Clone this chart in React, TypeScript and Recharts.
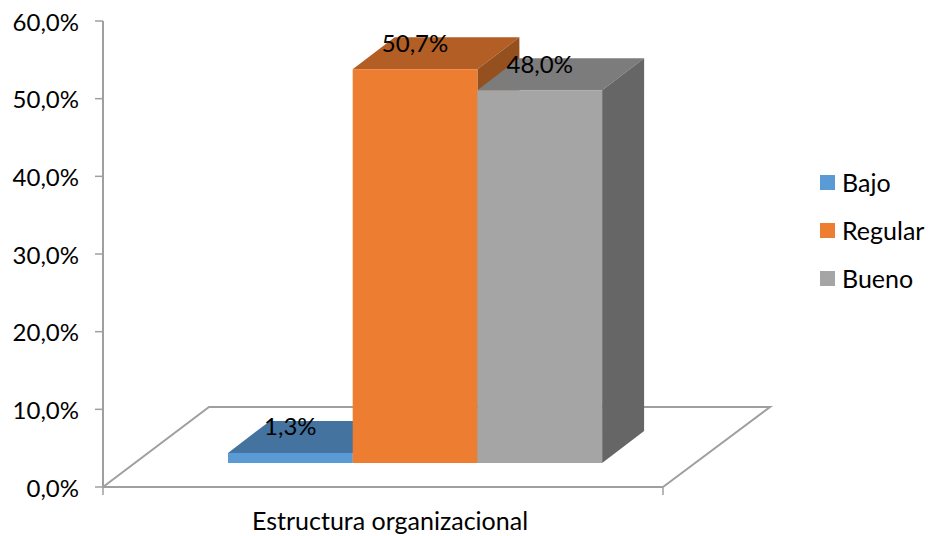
import { Bar, BarChart, LabelList, Legend, XAxis, YAxis } from "recharts";

const categories = ["Estructura organizacional"];
const bajo = [1.3];
const regular = [50.7];
const bueno = [48.0];
const yTicks = [0, 10, 20, 30, 40, 50, 60];

const rows = categories.map((name, i) => ({
  name,
  Bajo: bajo[i],
  Regular: regular[i],
  Bueno: bueno[i],
}));

const font = "Lato, 'Open Sans', sans-serif";
const axisColor = "#9f9f9f";
const textColor = "#000";

// plot box of the chart
const left = 103;
const right = 663;
const bottom = 487;

// the bars stand part way back on the floor
const shiftX = 32;
const shiftY = -24;
const depthX = 42;
const depthY = 32;

const legendItems = [
  { name: "Bajo", color: "#5b9bd5" },
  { name: "Regular", color: "#ed7d31" },
  { name: "Bueno", color: "#a5a5a5" },
];

const percent = (v: number) => v.toFixed(1).replace(".", ",") + "%";

function Floor() {
  return (
    <g fill="none" stroke={axisColor} strokeWidth={2}>
      <polyline points={`${left},${bottom} ${left + 106},407 ${right + 107},407 ${right},${bottom}`} />
      <line x1={left} x2={left} y1={bottom} y2={bottom + 8} strokeWidth={1.5} />
      <line x1={right} x2={right} y1={bottom} y2={bottom + 8} strokeWidth={1.5} />
    </g>
  );
}

function box(front: string, top: string, side: string) {
  return (props: any) => {
    const x = props.x + shiftX;
    const y = props.y + shiftY;
    const w = props.width;
    const h = props.height;
    return (
      <g>
        <polygon fill={top} points={`${x},${y} ${x + depthX},${y - depthY} ${x + w + depthX},${y - depthY} ${x + w},${y}`} />
        <polygon fill={side} points={`${x + w},${y} ${x + w + depthX},${y - depthY} ${x + w + depthX},${y + h - depthY} ${x + w},${y + h}`} />
        <rect x={x} y={y} width={w} height={h} fill={front} />
      </g>
    );
  };
}

function valueLabel(props: any) {
  return (
    <text
      x={props.x + props.width / 2 + shiftX}
      y={props.y + shiftY - 27}
      textAnchor="middle"
      dominantBaseline="central"
      fontFamily={font}
      fontSize={24}
      fill={textColor}
    >
      {percent(props.value)}
    </text>
  );
}

function LegendList() {
  return (
    <div style={{ fontFamily: font, fontSize: 25, color: textColor }}>
      {legendItems.map((item) => (
        <div key={item.name} style={{ display: "flex", alignItems: "center", height: 48 }}>
          <span style={{ width: 15, height: 15, background: item.color, marginRight: 7 }} />
          {item.name}
        </div>
      ))}
    </div>
  );
}

export default function App() {
  return (
    <div style={{ position: "absolute", left: 0, top: 0, width: 928, height: 536, background: "#fff" }}>
      <BarChart
        width={928}
        height={536}
        data={rows}
        barSize={124.7}
        barGap={0}
        margin={{ top: 21, right: 157, bottom: 0, left: 8 }}
      >
        <Floor />
        <XAxis
          dataKey="name"
          height={49}
          axisLine={{ stroke: axisColor, strokeWidth: 2 }}
          tickLine={false}
          tickMargin={19}
          tick={{ fontFamily: font, fontSize: 25, fill: textColor, dx: 7 }}
        />
        <YAxis
          width={95}
          domain={[0, 60]}
          ticks={yTicks}
          tickFormatter={percent}
          axisLine={{ stroke: axisColor, strokeWidth: 2 }}
          tickLine={{ stroke: axisColor, strokeWidth: 1.5 }}
          tickSize={8}
          tickMargin={16}
          tick={{ fontFamily: font, fontSize: 24, fill: textColor, dy: 1 }}
        />
        <Bar dataKey="Bajo" isAnimationActive={false} shape={box("#5b9bd5", "#44739f", "#3a6690")}>
          <LabelList dataKey="Bajo" content={valueLabel} />
        </Bar>
        <Bar dataKey="Regular" isAnimationActive={false} shape={box("#ed7d31", "#b25e25", "#955020")}>
          <LabelList dataKey="Regular" content={valueLabel} />
        </Bar>
        <Bar dataKey="Bueno" isAnimationActive={false} shape={box("#a5a5a5", "#7c7c7c", "#666666")}>
          <LabelList dataKey="Bueno" content={valueLabel} />
        </Bar>
        <Legend
          layout="vertical"
          align="right"
          verticalAlign="middle"
          width={108}
          content={<LegendList />}
          wrapperStyle={{ left: 820, right: "auto", top: 158 }}
        />
      </BarChart>
    </div>
  );
}
